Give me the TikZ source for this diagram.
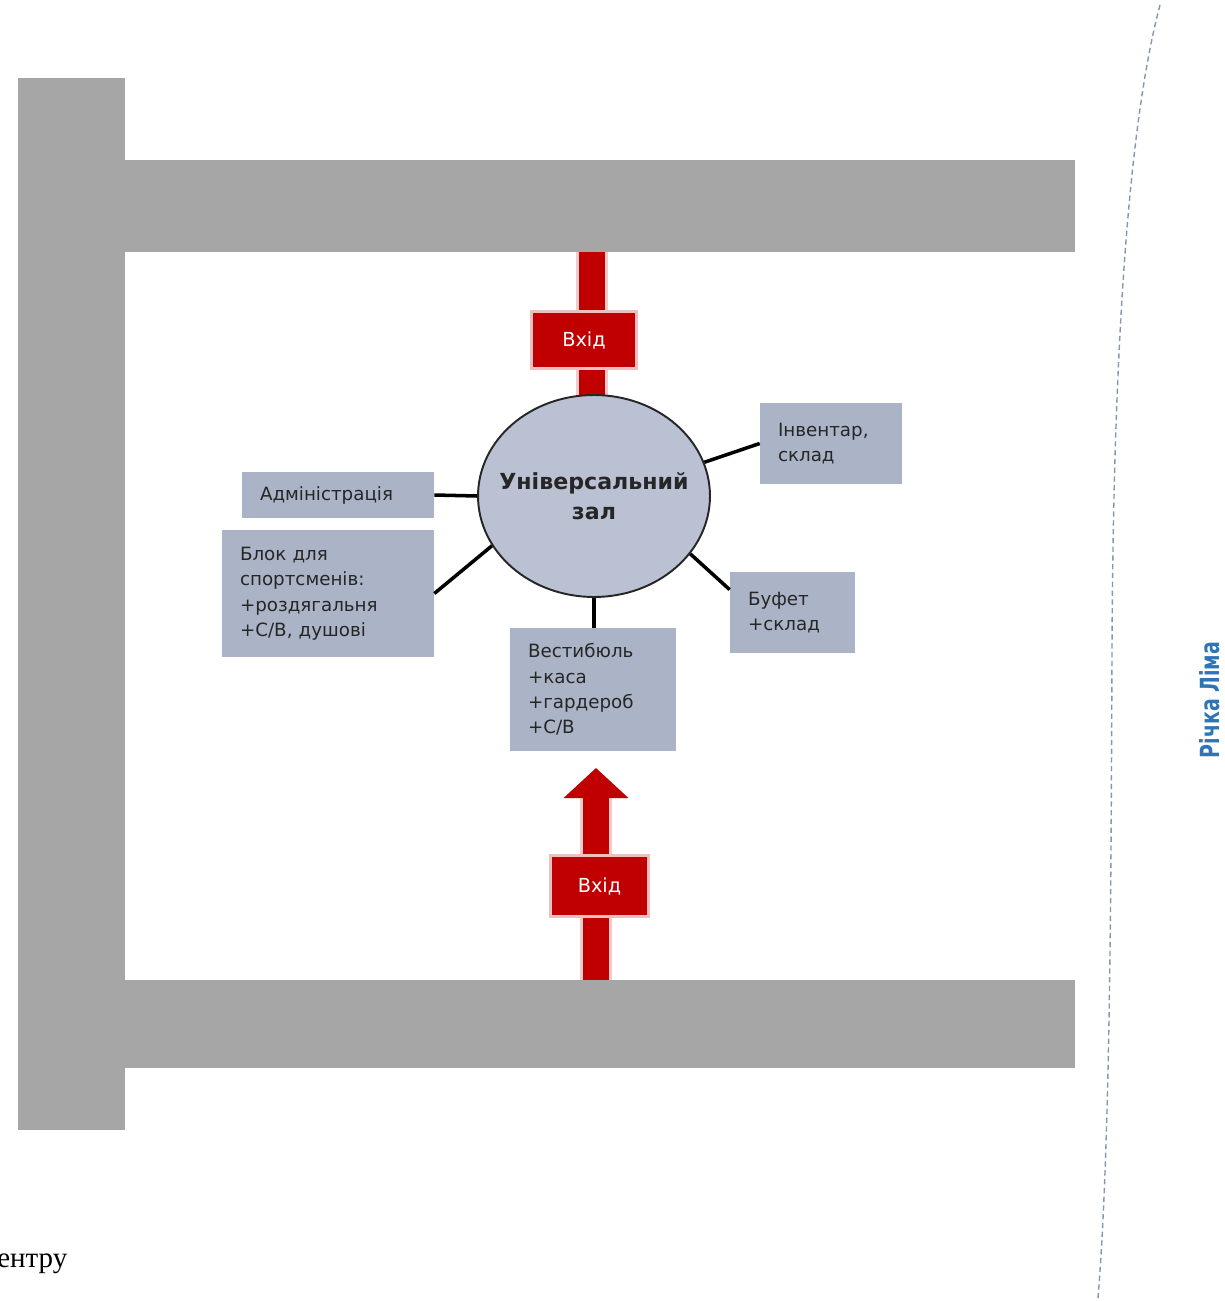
\documentclass[tikz,border=0pt]{standalone}
\usepackage{fontspec}
\setmainfont{DejaVu Sans}
\newfontfamily\riverfont[FakeStretch=0.72]{DejaVu Sans}
\newfontfamily\notefont{Liberation Serif}
\usepackage{xcolor}
\usepackage{tikz}
\usetikzlibrary{arrows.meta,positioning,calc,shapes.geometric}
\definecolor{roadgray}{HTML}{A6A6A6}
\definecolor{roomfill}{HTML}{AAB4C6}
\definecolor{hallfill}{HTML}{B9C1D3}
\definecolor{entryred}{HTML}{C00000}
\definecolor{riverblue}{HTML}{2E75B6}
\definecolor{riverline}{HTML}{8596AE}
\tikzset{
  room/.style={fill=roomfill,text=black!85,align=left,inner xsep=0.36cm,inner ysep=0pt,
               font=\fontsize{10.4}{14.5}\selectfont},
  link/.style={line width=2pt,black},
  entry/.style={fill=entryred,text=white,font=\fontsize{11}{12}\selectfont,
                minimum width=2.04cm,minimum height=1.08cm,inner sep=0pt,
                preaction={draw=entryred!25,line width=3pt}},
  shaft/.style={draw=entryred,line width=0.53cm,
                preaction={draw=entryred!20,line width=0.65cm}},
}
\begin{document}
\begin{tikzpicture}[x=0.02cm,y=-0.02cm,>=Stealth]
 \useasboundingbox (0,0) rectangle (1224,1301);
 % --- roads ---
 \fill[roadgray] (18,78) rectangle (125,1130);
 \fill[roadgray] (125,160) rectangle (1075,252);
 \fill[roadgray] (125,980) rectangle (1075,1068);
 % --- river ---
 \draw[riverline,line width=0.8pt,dash pattern=on 3pt off 2pt]
   (1160,5) .. controls (1124,140) and (1113,400) .. (1112,650)
            .. controls (1111,900) and (1110,1150) .. (1098,1298);
 \node[font=\riverfont\fontsize{15}{15}\selectfont\bfseries,text=riverblue,rotate=90] (river) at (1210,700) {Річка Ліма};
 % --- hall ---
 \coordinate (topgate) at (592,252);
 \draw[shaft] (topgate) -- (592,420);
 \node[ellipse,draw=black!85,line width=1.1pt,fill=hallfill,minimum width=4.64cm,minimum height=4.04cm,inner sep=0pt,
       label={[align=center,font=\fontsize{12.6}{17}\selectfont\bfseries,text=black!85]center:Універсальний\\зал}]
       (hall) at (594,496) {};
 \node[entry] (topin) at (584,340) {Вхід};
 % --- rooms ---
 \node[room,text width=3.12cm,minimum height=0.92cm] (admin) at (338,495) {Адміністрація};
 \node[room,text width=3.52cm,minimum height=2.54cm] (athl) at (328,593.5)
   {Блок для\\спортсменів:\\+роздягальня\\+С/В, душові};
 \node[room,text width=2.12cm,minimum height=1.62cm] (store) at (831,443.5) {Інвентар,\\склад};
 \node[room,text width=1.78cm,minimum height=1.62cm] (buffet) at (792.5,612.5) {Буфет\\+склад};
 \node[room,text width=2.6cm,minimum height=2.46cm] (lobby) at (593,689.5)
   {Вестибюль\\+каса\\+гардероб\\+С/В};
 \draw[link] (hall.west) -- (admin.east);
 \draw[link] (hall.206) -- (athl.east);
 \draw[link] (hall.17) -- (store.west);
 \draw[link] (hall.-31) -- (buffet.160);
 \draw[link] (hall.south) -- (hall.south |- lobby.north);
 % --- lower entrance ---
 \coordinate (lowgate) at (596,980);
 \coordinate (lowtip) at (596,768);
 \draw[shaft,-{Triangle[width=1.26cm,length=0.6cm]}] (lowgate) -- (lowtip);
 \node[entry,minimum width=1.9cm,minimum height=1.16cm] (lowin) at (599.5,886) {Вхід};
 % --- cut note ---
 \node[anchor=base west,inner sep=0pt,font=\notefont\fontsize{16.5}{18}\selectfont] (note) at (-3,1267) {ентру};
\end{tikzpicture}
\end{document}
